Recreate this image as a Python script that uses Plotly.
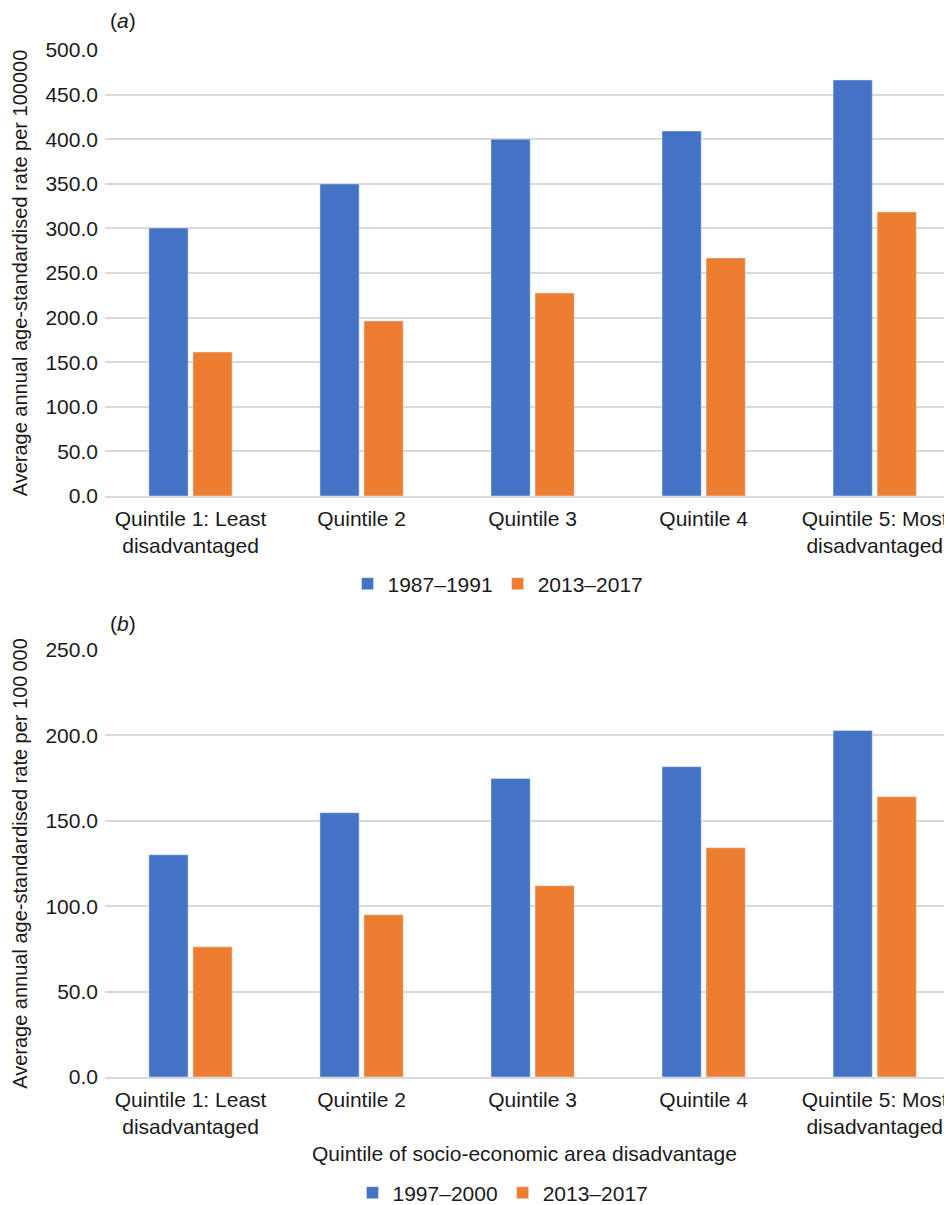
import plotly.graph_objects as go

categories = ["Quintile 1: Least<br>disadvantaged", "Quintile 2", "Quintile 3",
              "Quintile 4", "Quintile 5: Most<br>disadvantaged"]
a_early = [300.4, 349.8, 400.0, 409.2, 466.4]
a_late = [161.4, 196.3, 227.6, 266.8, 318.4]
b_early = [130.1, 154.7, 174.7, 181.7, 202.8]
b_late = [76.2, 95.0, 112.0, 134.2, 164.1]
a_names = ["1987\u20131991", "2013\u20132017"]
b_names = ["1997\u20132000", "2013\u20132017"]
a_ticks = [0, 50, 100, 150, 200, 250, 300, 350, 400, 450, 500]
b_ticks = [0, 50, 100, 150, 200, 250]

BLUE = "#4472C4"
ORANGE = "#ED7D31"
FONT = "Liberation Sans, Arial, sans-serif"
OFF = 8                      # page body margin
W, H = 952 - OFF, 1205 - OFF
FS = 21


def px(x):
    return (x - OFF) / W


def py(y):
    return 1 - (y - OFF) / H


fig = go.Figure()
fig.add_trace(go.Bar(x=categories, y=a_early, name=a_names[0], marker_color=BLUE,
                     xaxis="x", yaxis="y", legend="legend"))
fig.add_trace(go.Bar(x=categories, y=a_late, name=a_names[1], marker_color=ORANGE,
                     xaxis="x", yaxis="y", legend="legend"))
fig.add_trace(go.Bar(x=categories, y=b_early, name=b_names[0], marker_color=BLUE,
                     xaxis="x2", yaxis="y2", legend="legend2"))
fig.add_trace(go.Bar(x=categories, y=b_late, name=b_names[1], marker_color=ORANGE,
                     xaxis="x2", yaxis="y2", legend="legend2"))

xdom = [px(105), 1.0]
xr = [-0.5, 4.452]
grid = "#D9D9D9"
tickfont = dict(family=FONT, size=FS, color="#1a1a1a")

common_x = dict(type="category", range=xr, domain=xdom, showgrid=False,
                showline=True, linecolor=grid, linewidth=1.5, ticks="",
                tickfont=tickfont, fixedrange=True, automargin=False,
                ticklabelstandoff=3)
common_y = dict(showgrid=True, gridcolor=grid, gridwidth=1.5, zeroline=False,
                tickfont=tickfont, ticklabelstandoff=6, automargin=False,
                fixedrange=True)
fig.update_layout(
    width=W, height=H,
    margin=dict(l=0, r=0, t=0, b=0, autoexpand=False),
    paper_bgcolor="white", plot_bgcolor="white",
    font=dict(family=FONT, size=FS, color="#1a1a1a"),
    barmode="group", bargap=0.485, bargroupgap=0.11,
    xaxis=dict(**common_x, anchor="y"),
    xaxis2=dict(**common_x, anchor="y2"),
    yaxis=dict(**common_y, domain=[py(496), py(50)], range=[0, 500],
               tickvals=a_ticks, ticktext=[f"{v:.1f}" for v in a_ticks], anchor="x",
               title=dict(text="Average annual age-standardised rate per 100000",
                          font=dict(family=FONT, size=20), standoff=12)),
    yaxis2=dict(**common_y, domain=[py(1077), py(650)], range=[0, 250],
                tickvals=b_ticks, ticktext=[f"{v:.1f}" for v in b_ticks], anchor="x2",
                title=dict(text="Average annual age-standardised rate per 100\u2009000",
                           font=dict(family=FONT, size=20), standoff=12)),
    legend=dict(orientation="h", x=px(498), xanchor="center", y=py(584),
                yanchor="middle", font=dict(family=FONT, size=FS),
                itemwidth=30, bgcolor="rgba(0,0,0,0)"),
    legend2=dict(orientation="h", x=px(503), xanchor="center", y=py(1193),
                 yanchor="middle", font=dict(family=FONT, size=FS),
                 itemwidth=30, bgcolor="rgba(0,0,0,0)"),
    annotations=[
        dict(text="(<i>a</i>)", x=px(108), y=py(20), xref="paper", yref="paper",
             xanchor="left", yanchor="middle", showarrow=False,
             font=dict(family=FONT, size=FS)),
        dict(text="(<i>b</i>)", x=px(108), y=py(623), xref="paper", yref="paper",
             xanchor="left", yanchor="middle", showarrow=False,
             font=dict(family=FONT, size=FS)),
        dict(text="Quintile of socio-economic area disadvantage", x=px(524), y=py(1153),
             xref="paper", yref="paper", xanchor="center", yanchor="middle",
             showarrow=False, font=dict(family=FONT, size=FS)),
    ],
)

fig.write_html("out.html")
